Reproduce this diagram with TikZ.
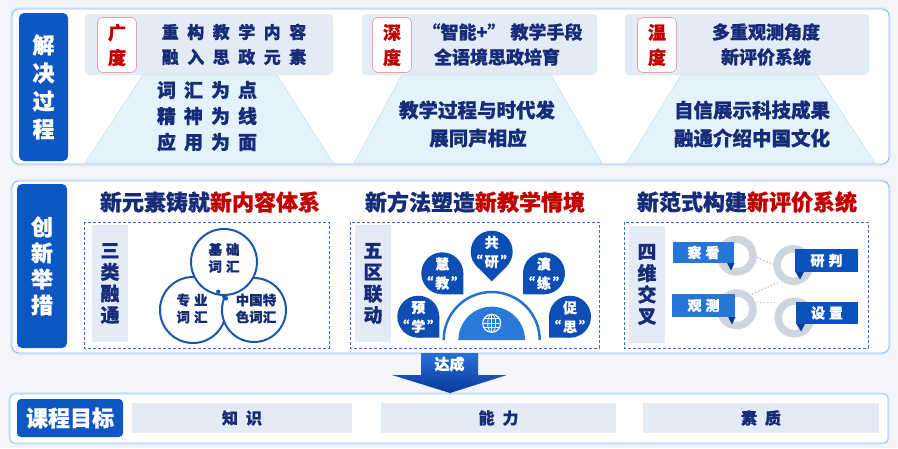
\documentclass[tikz,border=0pt]{standalone}
\usepackage{fontspec}
\setmainfont{Noto Sans CJK SC}[BoldFeatures={FakeBold=0.8}]
\usetikzlibrary{calc}
\definecolor{bgc}{HTML}{F3F5F8}
\definecolor{lblue}{HTML}{0D57C2}
\definecolor{navy}{HTML}{172C78}
\definecolor{redc}{HTML}{C00000}
\definecolor{blk}{HTML}{E3EBF7}
\definecolor{trap}{HTML}{E2F3FB}
\definecolor{trapl}{HTML}{BFE2F5}
\definecolor{pborder}{HTML}{93BDF0}
\definecolor{dashc}{HTML}{2F6FD0}
\definecolor{ringc}{HTML}{CDD5DF}
\definecolor{tagl}{HTML}{2676D8}
\definecolor{tagd}{HTML}{0B52BE}
\definecolor{tailc}{HTML}{083C94}
\definecolor{dropc}{HTML}{0D4DB4}
\definecolor{vennc}{HTML}{1A56B0}
\definecolor{badgeb}{HTML}{E6A3A3}
\definecolor{arcc}{HTML}{2670D6}
\definecolor{discc}{HTML}{2A78DA}
\definecolor{arrt}{HTML}{2A6FD6}
\definecolor{arrb}{HTML}{0A3A9A}
\definecolor{dotc}{HTML}{BFC7D1}
\newcommand\fsz[2]{\fontsize{#1}{#2}\selectfont}
\newcommand\lk{\kern8pt}
\newcommand\lkb{\kern8.5pt}
\newcommand\lks{\kern4pt}
\newcommand\qk{\kern2pt}
\newcommand\dropshape[3]{%
  \fill[dropc] (#1,#2) circle (21pt);
  \fill[dropc] (#1,#2) -- +(#3-45:21) -- +(#3:29.7) -- +(#3+45:21) -- cycle;}
\begin{document}
\begin{tikzpicture}[x=1pt,y=-1pt,
  panelst/.style={draw=pborder, line width=0.9pt, fill=white, rounded corners=7pt},
  glowst/.style={draw=pborder!30, line width=4pt, rounded corners=8pt},
  sidelab/.style={fill=lblue, rounded corners=5pt, inner sep=0pt, text=white, align=center},
  blockbg/.style={fill=blk, rounded corners=4pt, inner sep=0pt},
  badgest/.style={fill=white, draw=badgeb, line width=0.7pt, rounded corners=5pt, inner sep=0pt, text=redc, align=center, font=\fsz{18}{25}\bfseries, minimum width=39pt, minimum height=55pt},
  ntxt/.style={inner sep=0pt, text=navy},
  trapf/.style={fill=trap, draw=trapl, line width=0.6pt},
  dbox/.style={draw=dashc, densely dashed, line width=0.8pt},
  vlab/.style={fill=blk, inner sep=0pt, text=navy, align=center, font=\fsz{19}{21.5}\bfseries},
  vennst/.style={circle, draw=vennc, line width=2pt, fill=white, inner sep=0pt},
  vtxt/.style={inner sep=0pt, text=navy, font=\fsz{13.5}{17}\bfseries, align=center},
  droptxt/.style={inner sep=0pt, text=white, font=\fsz{14}{19}\bfseries, align=center},
  ringst/.style={circle, draw=ringc, line width=7.5pt, minimum size=32.5pt, inner sep=0pt},
  tagA/.style={fill=tagl, inner sep=0pt, text=white, font=\fsz{14}{14}\bfseries},
  tagB/.style={fill=tagd, inner sep=0pt, text=white, font=\fsz{14}{14}\bfseries},
  tailst/.style={fill=tailc},
  goalbox/.style={fill=blk, inner sep=0pt, text=navy, font=\fsz{16}{16}\bfseries},
  titlest/.style={inner sep=0pt, font=\fsz{22}{22}\bfseries},
  dotln/.style={draw=dotc, dotted, line width=1.4pt}
]
\useasboundingbox (0,0) rectangle (898,448);
\fill[bgc] (0,0) rectangle (898,448);

% ---------------- top panel ----------------
\draw[glowst] (12,9) rectangle (889,164);
\draw[panelst] (12,9) rectangle (889,164);
\node[sidelab, minimum width=49pt, minimum height=148pt, font=\fsz{22}{28}\bfseries] (lab1) at (43.5,87) {解\\决\\过\\程};

% trapezoids
\path[trapf] (143,75) -- (277,75) -- (333,163) -- (85,163) -- cycle;
\path[trapf] (402,75) -- (551,75) -- (602,163) -- (354,163) -- cycle;
\path[trapf] (681,75) -- (817,75) -- (875,163) -- (627,163) -- cycle;

% blocks
\node[blockbg, minimum width=248pt, minimum height=61pt] (b1) at (209,44.5) {};
\node[blockbg, minimum width=235pt, minimum height=61pt] (b2) at (479.5,44.5) {};
\node[blockbg, minimum width=244pt, minimum height=61pt] (b3) at (747,44.5) {};
\node[badgest] (g1) at (117,45) {广\\度};
\node[badgest] (g2) at (392,45) {深\\度};
\node[badgest] (g3) at (657,45) {温\\度};

\node[ntxt, font=\fsz{17}{17}\bfseries] (t1a) at (234,32) {重\lkb 构\lkb 教\lkb 学\lkb 内\lkb 容};
\node[ntxt, font=\fsz{17}{17}\bfseries] (t1b) at (234,57) {融\lkb 入\lkb 思\lkb 政\lkb 元\lkb 素};
\node[ntxt, font=\fsz{18}{18}\bfseries] (t2a) at (500,32) {\kern5pt“智能+”\kern5pt 教学手段};
\node[ntxt, font=\fsz{18}{18}\bfseries] (t2b) at (497,57) {全语境思政培育};
\node[ntxt, font=\fsz{18}{18}\bfseries] (t3a) at (766,32) {多重观测角度};
\node[ntxt, font=\fsz{18}{18}\bfseries] (t3b) at (766,57) {新评价系统};

\node[ntxt, font=\fsz{19}{19}\bfseries] (p1a) at (207,90) {词\lk 汇\lk 为\lk 点};
\node[ntxt, font=\fsz{19}{19}\bfseries] (p1b) at (207,116) {精\lk 神\lk 为\lk 线};
\node[ntxt, font=\fsz{19}{19}\bfseries] (p1c) at (207,142) {应\lk 用\lk 为\lk 面};
\node[ntxt, font=\fsz{19.5}{19.5}\bfseries] (p2a) at (477,110) {教学过程与时代发};
\node[ntxt, font=\fsz{19.5}{19.5}\bfseries] (p2b) at (478,138) {展同声相应};
\node[ntxt, font=\fsz{19.5}{19.5}\bfseries] (p3a) at (752,110) {自信展示科技成果};
\node[ntxt, font=\fsz{19.5}{19.5}\bfseries] (p3b) at (752,138) {融通介绍中国文化};

% ---------------- middle panel ----------------
\draw[glowst] (12,181) rectangle (889,353);
\draw[panelst] (12,181) rectangle (889,353);
\node[sidelab, minimum width=50pt, minimum height=164pt, font=\fsz{22}{26}\bfseries] (lab2) at (42,266) {创\\新\\举\\措};

\node[titlest] (h1) at (210,202) {\textcolor{navy}{新元素铸就}\textcolor{redc}{新内容体系}};
\node[titlest] (h2) at (475,202) {\textcolor{navy}{新方法塑造}\textcolor{redc}{新教学情境}};
\node[titlest] (h3) at (747,202) {\textcolor{navy}{新范式构建}\textcolor{redc}{新评价系统}};

\draw[dbox] (84,222) rectangle (329,348);
\draw[dbox] (350,222) rectangle (599,348);
\draw[dbox] (624,222) rectangle (868,348);

\node[vlab, minimum width=36pt, minimum height=117pt] (v1) at (110,283.5) {三\\类\\融\\通};
\node[vlab, minimum width=36pt, minimum height=117pt] (v2) at (373,283.5) {五\\区\\联\\动};
\node[vlab, minimum width=36pt, minimum height=117pt] (v3) at (647,284.5) {四\\维\\交\\叉};

% venn
\node[vennst, minimum size=66pt] (c2) at (193,310) {};
\node[vennst, minimum size=64pt] (c3) at (254,310) {};
\node[vennst, minimum size=66pt] (c1) at (224,262) {};
\fill[vennc] (218.3,291.7) circle (2.2pt);
\fill[vennc] (226,298.3) circle (2.2pt);
\node[vtxt] (vt1) at (224,258) {基\lks 础\\词\lks 汇};
\node[vtxt] (vt2) at (192,308.5) {专\lks 业\\词\lks 汇};
\node[vtxt] (vt3) at (256,308.5) {中国特\\色词汇};

% five zones
\draw[arcc, line width=2.5pt] (443.7,340) arc (180:360:48);
\fill[discc] (458.4,340) arc (180:360:33.3) -- cycle;
\node[circle, minimum size=19pt, inner sep=0pt] (globe) at (491.7,323.3) {};
\draw[white, line width=1.1pt] (globe.center) circle (9pt);
\draw[white, line width=0.8pt] (globe.center) ellipse (4pt and 9pt);
\draw[white, line width=0.8pt] (482.7,323.3) -- (500.7,323.3) (491.7,314.3) -- (491.7,332.3)
  (483.9,318.8) -- (499.5,318.8) (483.9,327.8) -- (499.5,327.8);

\dropshape{491.7}{251.7}{90}
\dropshape{442.3}{273.3}{45}
\dropshape{544}{273.3}{135}
\dropshape{418.3}{316.7}{45}
\dropshape{570}{316.7}{135}
\node[droptxt] (d1) at (491.7,252) {共\\“\qk 研\qk ”};
\node[droptxt] (d2) at (442.3,273.5) {慧\\“\qk 教\qk ”};
\node[droptxt] (d3) at (544,273.5) {演\\“\qk 练\qk ”};
\node[droptxt] (d4) at (418.3,317) {预\\“\qk 学\qk ”};
\node[droptxt] (d5) at (570,317) {促\\“\qk 思\qk ”};

% rings
\node[ringst] (r1) at (736.7,255.7) {};
\node[ringst] (r2) at (793.3,265) {};
\node[ringst] (r3) at (736.7,309.3) {};
\node[ringst] (r4) at (794.5,317.5) {};
\coordinate (e1a) at (757,257.5); \coordinate (e1b) at (775,265);
\coordinate (e2a) at (752,294); \coordinate (e2b) at (780,281.7);
\coordinate (e3a) at (757,302.7); \coordinate (e3b) at (777,302.7);
\draw[dotln] (e1a) -- (e1b);
\draw[dotln] (e2a) -- (e2b);
\draw[dotln] (e3a) -- (e3b);

\node[tagA, minimum width=61pt, minimum height=21pt] (k1) at (703.5,252.5) {察\lks 看};
\fill[tailst] (727,263) -- (734.5,263) -- (731,270.5) -- cycle;
\node[tagA, minimum width=63pt, minimum height=23pt] (k2) at (703.5,305.5) {观\lks 测};
\fill[tailst] (728,317) -- (735.5,317) -- (732,324.5) -- cycle;
\node[tagB, minimum width=63pt, minimum height=23pt] (k3) at (826.5,260.5) {研\lks 判};
\fill[tailst] (795.5,272) -- (804,272) -- (800,279.5) -- cycle;
\node[tagB, minimum width=62pt, minimum height=22pt] (k4) at (827,313) {设\lks 置};
\fill[tailst] (796.5,324) -- (805,324) -- (801,331.5) -- cycle;

% ---------------- bottom ----------------
\draw[glowst] (10,394) rectangle (888,443);
\draw[panelst, rounded corners=4pt] (10,394) rectangle (888,443);
\shade[top color=arrt, bottom color=arrb] (421,353) -- (478,353) -- (478,375) -- (507,375) -- (450,393) -- (392,375) -- (421,375) -- cycle;
\node[inner sep=0pt, text=white, font=\fsz{15}{15}\bfseries] (arr) at (449.5,364) {达成};

\node[sidelab, minimum width=106pt, minimum height=38pt, rounded corners=4pt, font=\fsz{22}{22}\bfseries] (goal) at (70,418) {课程目标};
\node[goalbox, minimum width=220pt, minimum height=30pt] (g1b) at (242,418) {知\lk 识};
\node[goalbox, minimum width=235pt, minimum height=30pt] (g2b) at (498.5,418) {能\lk 力};
\node[goalbox, minimum width=236pt, minimum height=30pt] (g3b) at (761,418) {素\lk 质};
\end{tikzpicture}
\end{document}
